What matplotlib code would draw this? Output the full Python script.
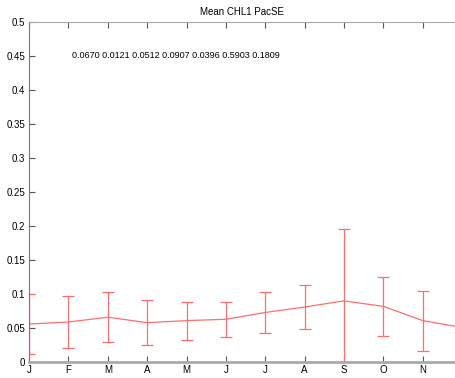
import numpy as np
import matplotlib
matplotlib.use("Agg")
import matplotlib.pyplot as plt

plt.rcParams['font.family'] = ['Liberation Sans', 'DejaVu Sans']

months = np.arange(1, 13)
month_labels = ['J', 'F', 'M', 'A', 'M', 'J', 'J', 'A', 'S', 'O', 'N', 'D']
mean_chl = [0.056, 0.059, 0.066, 0.058, 0.061, 0.063, 0.073, 0.081, 0.090, 0.082, 0.061, 0.051]
std_chl = [0.044, 0.038, 0.037, 0.033, 0.028, 0.026, 0.030, 0.032, 0.105, 0.043, 0.044, 0.040]
stats_text = "0.0670 0.0121 0.0512 0.0907 0.0396 0.5903 0.1809"

fig = plt.figure(figsize=(4.55, 3.78), dpi=100)
ax = fig.add_axes([0.064, 0.042, 0.936, 0.9])

red = '#ff6e6e'
ax.errorbar(months, mean_chl, yerr=std_chl, color=red, ecolor=red,
            linewidth=0.9, elinewidth=0.9, capsize=4.5, capthick=0.9, clip_on=True)

ax.set_xlim(1, 11.82)
ax.set_ylim(0, 0.5)
ax.set_xticks(months[:11])
ax.set_xticklabels(month_labels[:11])
ax.set_yticks(np.arange(0, 0.51, 0.05))
ax.set_yticklabels(['0', '0.05', '0.1', '0.15', '0.2', '0.25', '0.3', '0.35',
                    '0.4', '0.45', '0.5'])

ax.tick_params(direction='in', top=True, labelsize=7, length=4, color='#555555', width=0.8)
ax.tick_params(axis='x', pad=2)
ax.tick_params(axis='y', pad=3)
ax.spines['right'].set_visible(False)
ax.spines['left'].set_color('#777777')
ax.spines['top'].set_color('#aaaaaa')
ax.spines['bottom'].set_color('#aaaaaa')
ax.spines['bottom'].set_linewidth(2)

ax.text(2.08, 0.45, stats_text, fontsize=6.5, va='center', ha='left')
ax.set_title('Mean CHL1 PacSE', fontsize=7, pad=5)

fig.savefig('out.png', dpi=100)
